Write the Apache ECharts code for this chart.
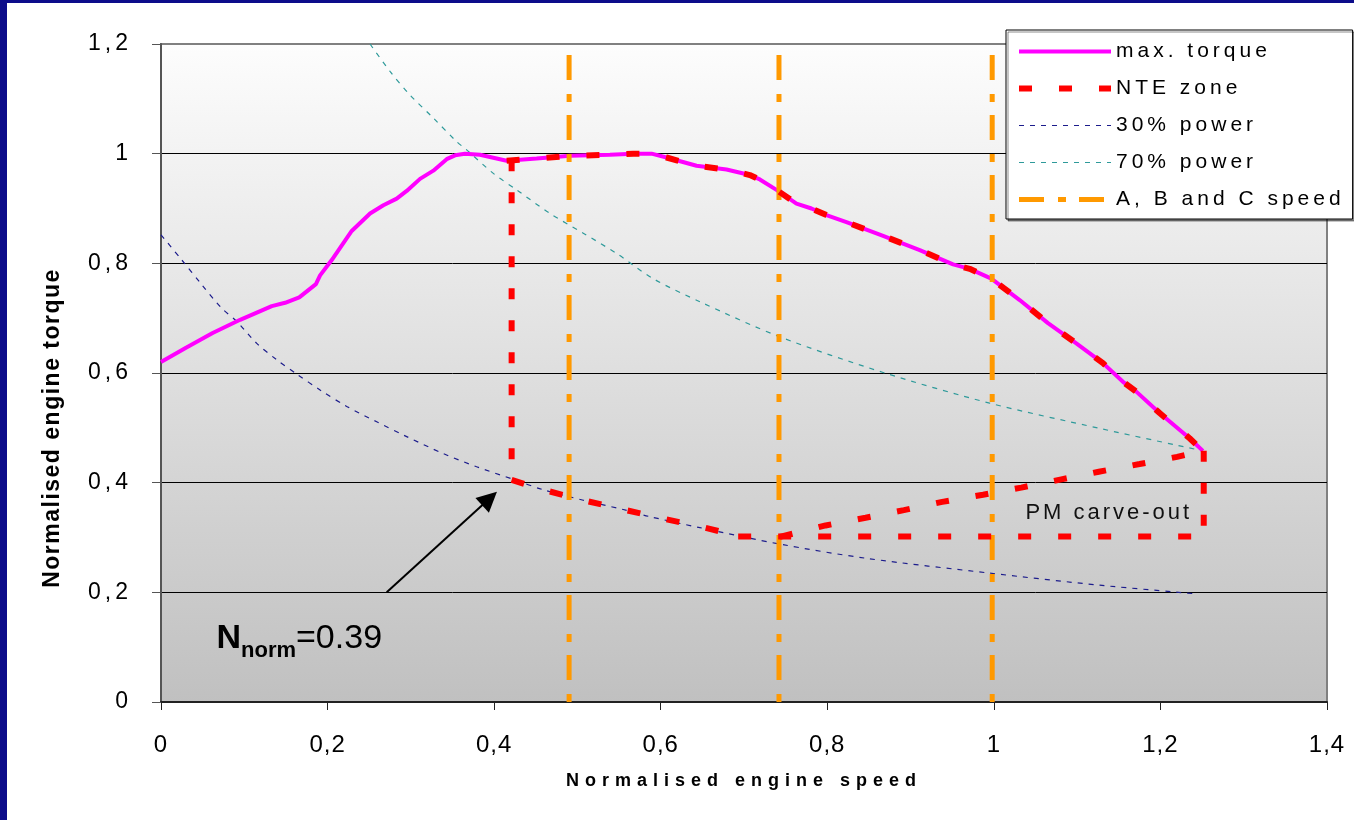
<!DOCTYPE html>
<html>
<head>
<meta charset="utf-8">
<title>NTE zone</title>
<script src="https://cdn.jsdelivr.net/npm/echarts@6/dist/echarts.min.js"></script>
<style>
  html, body { margin: 0; background: #fff; }
  #chart { width: 1354px; height: 820px; }
</style>
</head>
<body>
<div id="chart"></div>
<script>
// [normalised speed, normalised torque]
const maxTorque = [
    [0, 0.62], [0.03, 0.646], [0.062, 0.673], [0.095, 0.697], [0.133, 0.722], [0.149, 0.728],
    [0.166, 0.738], [0.186, 0.762], [0.191, 0.778], [0.205, 0.806], [0.229, 0.859], [0.251, 0.891],
    [0.267, 0.906], [0.283, 0.918], [0.295, 0.932], [0.311, 0.954], [0.327, 0.969], [0.343, 0.99],
    [0.353, 0.997], [0.365, 1.0], [0.383, 0.998], [0.415, 0.987], [0.451, 0.991], [0.491, 0.996],
    [0.539, 0.998], [0.567, 1.0], [0.589, 1.0], [0.607, 0.993], [0.643, 0.978], [0.679, 0.971],
    [0.707, 0.961], [0.719, 0.953], [0.739, 0.934], [0.763, 0.909], [0.781, 0.9], [0.799, 0.888],
    [0.823, 0.875], [0.867, 0.85], [0.911, 0.824], [0.951, 0.798], [0.971, 0.79], [0.997, 0.772],
    [1.031, 0.733], [1.065, 0.691], [1.099, 0.654], [1.131, 0.618], [1.155, 0.584], [1.171, 0.566],
    [1.199, 0.527], [1.235, 0.481], [1.251, 0.458]
];
const power30 = [
    [0, 0.852], [0.025, 0.806], [0.049, 0.761], [0.073, 0.718], [0.091, 0.694], [0.115, 0.654],
    [0.139, 0.624], [0.163, 0.598], [0.191, 0.569], [0.223, 0.539], [0.259, 0.511], [0.295, 0.484],
    [0.339, 0.453], [0.379, 0.429], [0.423, 0.406], [0.459, 0.387], [0.507, 0.368], [0.555, 0.351],
    [0.587, 0.338], [0.647, 0.318], [0.743, 0.288], [0.847, 0.262], [0.995, 0.235], [1.127, 0.213],
    [1.245, 0.197]
];
const power70 = [
    [0.251, 1.2], [0.275, 1.15], [0.299, 1.107], [0.327, 1.065], [0.355, 1.022], [0.367, 1.007],
    [0.399, 0.964], [0.427, 0.934], [0.467, 0.891], [0.507, 0.855], [0.547, 0.818], [0.591, 0.772],
    [0.647, 0.73], [0.743, 0.666], [0.867, 0.601], [0.995, 0.545], [1.127, 0.499], [1.251, 0.458]
];

// NTE zone outline pieces
const nteStart = 0.415; // top edge follows max. torque from here
const nteLeft = [[0.421, 0.988], [0.421, 0.405]];
const nteLower = [
    [0.421, 0.405], [0.459, 0.387], [0.507, 0.368], [0.555, 0.351], [0.601, 0.335],
    [0.647, 0.32], [0.693, 0.303]
];
const nteFloor = [[0.693, 0.302], [1.252, 0.302]];
const nteRise = [
    [0.743, 0.301], [0.798, 0.322], [0.846, 0.336], [0.892, 0.35], [0.938, 0.365], [0.987, 0.378],
    [1.033, 0.391], [1.081, 0.406], [1.126, 0.42], [1.175, 0.434], [1.22, 0.447], [1.251, 0.458]
];
const nteRight = [[1.252, 0.458], [1.252, 0.302]];

const speedsABC = [0.49, 0.742, 0.998];
const speedLineTop = 1.18;

// annotations
const arrowFrom = [0.271, 0.2];
const arrowTo = [0.3945, 0.371];
const nNormAt = [0.166, 0.115];
const carveOutAt = [1.138, 0.344];

const legendNames = ['max. torque', 'NTE zone', '30% power', '70% power', 'A, B and C speed'];

const FONT = '"Liberation Sans", Arial, sans-serif';
const RED = '#ff0000';

// ECharts has no letter-spacing option and the slide text is spread out,
// so set it on the canvas per font (weight + px size) before drawing / measuring
const tracking = { n21: '4px', n22: '3px', n23: '4px', n24: '1px', b18: '6px', b23: '1.5px' };
const ctxProto = CanvasRenderingContext2D.prototype;
function applyTracking(ctx) {
    const m = /(\d+(?:\.\d+)?)px/.exec(ctx.font);
    const key = (/bold|[6-9]00/.test(ctx.font) ? 'b' : 'n') + (m ? Math.round(+m[1]) : '');
    ctx.letterSpacing = tracking[key] || '0px';
}
['fillText', 'strokeText', 'measureText'].forEach((fn) => {
    const orig = ctxProto[fn];
    ctxProto[fn] = function (...args) {
        applyTracking(this);
        return orig.apply(this, args);
    };
});

const commaLabel = (v) => String(Math.round(v * 10) / 10).replace('.', ',');

const plainLine = (name, data, color, width, type) => ({
    name,
    type: 'line',
    data,
    symbol: 'none',
    silent: true,
    itemStyle: { color },
    lineStyle: { color, width, type },
});

const nteSeries = [
    plainLine('NTE zone', maxTorque.filter((p) => p[0] >= nteStart), RED, 6, [13, 27]),
    plainLine('NTE zone', nteLeft, RED, 6, [11, 21]),
    plainLine('NTE zone', nteLower, RED, 6, [13, 27]),
    Object.assign(plainLine('NTE zone', nteFloor, RED, 6, [13, 27]), {
        markPoint: {
            silent: true,
            symbol: 'circle',
            symbolSize: 0,
            label: {
                show: true,
                position: 'inside',
                formatter: 'PM carve-out',
                color: '#111',
                fontSize: 22,
                lineHeight: 22,
                fontFamily: FONT,
            },
            data: [{ coord: carveOutAt }],
        },
    }),
    plainLine('NTE zone', nteRise, RED, 6, [13, 27]),
    plainLine('NTE zone', nteRight, RED, 6, [11, 21]),
];

const power30Series = Object.assign(plainLine('30% power', power30, '#1c1c8c', 1.2, [5, 6]), {
    smooth: 0.3,
    markLine: {
        silent: true,
        symbol: ['none', 'triangle'],
        symbolSize: 20,
        lineStyle: { color: '#000', width: 2, type: 'solid' },
        label: { show: false },
        data: [[{ coord: arrowFrom }, { coord: arrowTo }]],
    },
    markPoint: {
        silent: true,
        symbol: 'circle',
        symbolSize: 0,
        label: {
            show: true,
            position: 'inside',
            color: '#000',
            fontFamily: FONT,
            formatter: '{n|N}{sub|norm}{v|=0.39}',
            rich: {
                n: { fontSize: 34, fontWeight: 'bold', lineHeight: 46, fontFamily: FONT, color: '#000' },
                sub: { fontSize: 22, fontWeight: 'bold', lineHeight: 22, verticalAlign: 'bottom', fontFamily: FONT, color: '#000' },
                v: { fontSize: 34, lineHeight: 46, fontFamily: FONT, color: '#000' },
            },
        },
        data: [{ coord: nNormAt }],
    },
});

const chart = echarts.init(document.getElementById('chart'));

const options = {
    animation: false,
    backgroundColor: '#fff',
    textStyle: { fontFamily: FONT },
    graphic: [
        // the blue slide frame
        { type: 'rect', left: 0, top: 0, shape: { width: 7, height: 820 }, style: { fill: '#0c0c8a' }, z: 100 },
        { type: 'rect', left: 0, top: 0, shape: { width: 1354, height: 3 }, style: { fill: '#0c0c8a' }, z: 100 },
    ],
    grid: {
        left: 161,
        right: 27,
        top: 44,
        bottom: 118,
        show: true,
        outerBoundsMode: 'none',
        backgroundColor: {
            type: 'linear', x: 0, y: 0, x2: 0, y2: 1,
            colorStops: [{ offset: 0, color: '#fdfdfd' }, { offset: 1, color: '#c0c0c0' }],
        },
        borderColor: '#808080',
        borderWidth: 2,
    },
    legend: {
        data: legendNames,
        orient: 'vertical',
        left: 1006,
        top: 30,
        itemWidth: 92,
        itemHeight: 14,
        itemGap: 12,
        padding: [9, 8, 7, 10],
        backgroundColor: '#fff',
        borderColor: '#000',
        borderWidth: 1,
        shadowColor: 'rgba(0,0,0,0.45)',
        shadowOffsetX: 2,
        shadowOffsetY: 2,
        selectedMode: false,
        itemStyle: { opacity: 0 }, // line only, no marker in the middle
        lineStyle: { width: 'inherit' },
        textStyle: { fontSize: 21, lineHeight: 21, color: '#000', fontFamily: FONT },
    },
    xAxis: {
        type: 'value',
        min: 0,
        max: 1.4,
        interval: 0.2,
        name: 'Normalised engine speed',
        nameLocation: 'middle',
        nameGap: 70,
        nameMoveOverlap: false,
        nameTextStyle: { fontSize: 18, fontWeight: 'bold', lineHeight: 18, color: '#000', fontFamily: FONT },
        axisLine: { show: true, lineStyle: { color: '#222', width: 2 } },
        axisTick: { show: true, inside: false, length: 8, lineStyle: { color: '#222' } },
        axisLabel: { margin: 31, fontSize: 24, lineHeight: 24, color: '#000', fontFamily: FONT, formatter: commaLabel },
        splitLine: { show: false },
    },
    yAxis: {
        type: 'value',
        min: 0,
        max: 1.2,
        interval: 0.2,
        name: 'Normalised engine torque',
        nameLocation: 'middle',
        nameGap: 97,
        nameMoveOverlap: false,
        nameTextStyle: {
            fontSize: 23, fontWeight: 'bold', lineHeight: 23, color: '#000', fontFamily: FONT,
            padding: [0, 110, 0, 0], // pushes the title down the axis like on the slide
        },
        axisLine: { show: true, lineStyle: { color: '#555', width: 2 } },
        axisTick: { show: true, inside: false, length: 9, lineStyle: { color: '#555' } },
        axisLabel: { margin: 29, fontSize: 23, lineHeight: 23, color: '#000', fontFamily: FONT, formatter: commaLabel },
        splitLine: {
            show: true,
            lineStyle: { color: ['#000', '#000', '#000', '#000', '#000', '#000', '#808080'], width: 1 },
        },
    },
    series: [
        power30Series,
        Object.assign(plainLine('70% power', power70, '#2e9a9a', 1.2, [5, 6]), { smooth: 0.3 }),
        plainLine('max. torque', maxTorque, '#ff00ff', 4, 'solid'),
        ...speedsABC.map((s) => plainLine('A, B and C speed', [[s, speedLineTop], [s, 0]], '#ff9900', 5, [25, 14, 8, 13])),
        ...nteSeries,
    ],
};

chart.setOption(options);
</script>
</body>
</html>
